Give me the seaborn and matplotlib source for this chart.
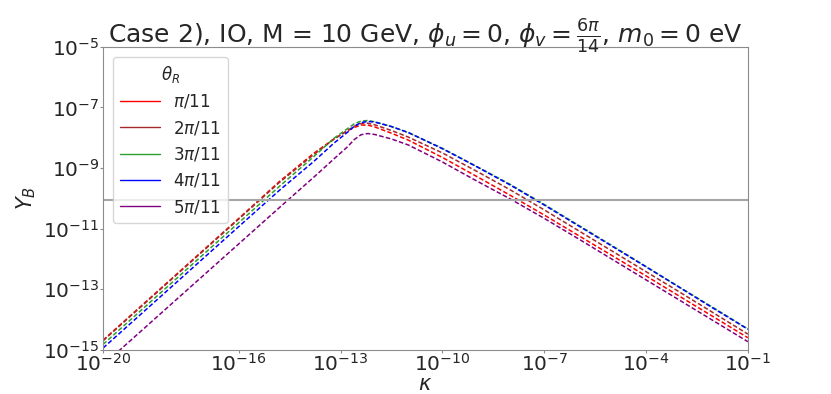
import numpy as np
import pandas as pd
import seaborn as sns
import matplotlib.pyplot as plt
from matplotlib.lines import Line2D

# values, stored as log10 exponents
log_kappa = [-20, -16, -14.8, -13.8, -13.2, -12.8, -12.6, -12.4, -12.2, -12.0, -11.5, -11, -10, -9, -8, -7, -6, -5, -4, -3, -2, -1]

yb_pi = [-14.68, -10.66, -9.44, -8.52, -8.04, -7.77, -7.66, -7.58, -7.58, -7.64, -7.85, -8.08, -8.65, -9.27, -9.9, -10.55, -11.22, -11.89, -12.56, -13.24, -13.92, -14.6]
yb_2pi = [-14.7, -10.68, -9.47, -8.56, -8.05, -7.76, -7.62, -7.53, -7.52, -7.57, -7.76, -7.98, -8.5, -9.1, -9.72, -10.38, -11.06, -11.74, -12.42, -13.1, -13.79, -14.48]
yb_3pi = [-14.82, -10.8, -9.6, -8.63, -8.02, -7.7, -7.54, -7.45, -7.43, -7.47, -7.63, -7.83, -8.35, -8.94, -9.54, -10.2, -10.88, -11.56, -12.25, -12.94, -13.62, -14.31]
yb_4pi = [-14.94, -10.93, -9.73, -8.79, -8.18, -7.82, -7.62, -7.5, -7.46, -7.48, -7.63, -7.83, -8.36, -8.95, -9.56, -10.22, -10.9, -11.58, -12.26, -12.95, -13.64, -14.32]
yb_5pi = [-15.5, -11.5, -10.3, -9.31, -8.7, -8.3, -8.06, -7.9, -7.86, -7.89, -8.04, -8.24, -8.8, -9.42, -10.02, -10.66, -11.33, -12.01, -12.69, -13.37, -14.05, -14.73]

theta_labels = [r'$\pi/11$', r'$2\pi/11$', r'$3\pi/11$', r'$4\pi/11$', r'$5\pi/11$']
colors = ['red', 'brown', 'tab:green', 'blue', 'purple']
yb_observed = 8.7e-11

xticks = [1e-20, 1e-16, 1e-13, 1e-10, 1e-7, 1e-4, 1e-1]
yticks = [1e-15, 1e-13, 1e-11, 1e-9, 1e-7, 1e-5]

sns.set_style("white")
plt.rcParams['axes.edgecolor'] = '#8c8c8c'

fig, ax = plt.subplots(figsize=(8.31, 3.94), dpi=100)
fig.subplots_adjust(left=0.124, right=0.900, top=0.881, bottom=0.112)

kappa = 10.0 ** np.array(log_kappa)
handles = []
for vals, lab, col in zip([yb_pi, yb_2pi, yb_3pi, yb_4pi, yb_5pi], theta_labels, colors):
    yb = 10.0 ** np.array(vals)
    sns.lineplot(x=kappa, y=yb, color=col, linewidth=1.1, linestyle=(0, (3, 1.5)), ax=ax)
    handles.append(Line2D([], [], color=col, linewidth=1.0, label=lab))

ax.axhline(yb_observed, color='#a6a6a6', linewidth=1.5)

ax.set_xscale('log')
ax.set_yscale('log')
ax.set_xlim(1e-20, 1e-1)
ax.set_ylim(1e-15, 1e-5)
ax.set_xticks(xticks)
ax.set_yticks(yticks)
ax.minorticks_off()
ax.tick_params(axis='both', labelsize=14.5, length=2, pad=0.5, left=True, bottom=True, color='#8c8c8c')

ax.set_xlabel(r'$\kappa$', fontsize=15, labelpad=-1)
ax.set_ylabel(r'$Y_B$', fontsize=15)
ax.set_title(r'Case 2), IO, M = 10 GeV, $\phi_u = 0$, $\phi_v = \frac{6\pi}{14}$, $m_0 = 0$ eV', fontsize=18, pad=3)

ax.legend(handles=handles, title=r'$\theta_R$', loc='upper left', fontsize=12, title_fontsize=12,
          handlelength=2.4, labelspacing=0.5, borderaxespad=0.6)

fig.savefig('out.png', dpi=100)
